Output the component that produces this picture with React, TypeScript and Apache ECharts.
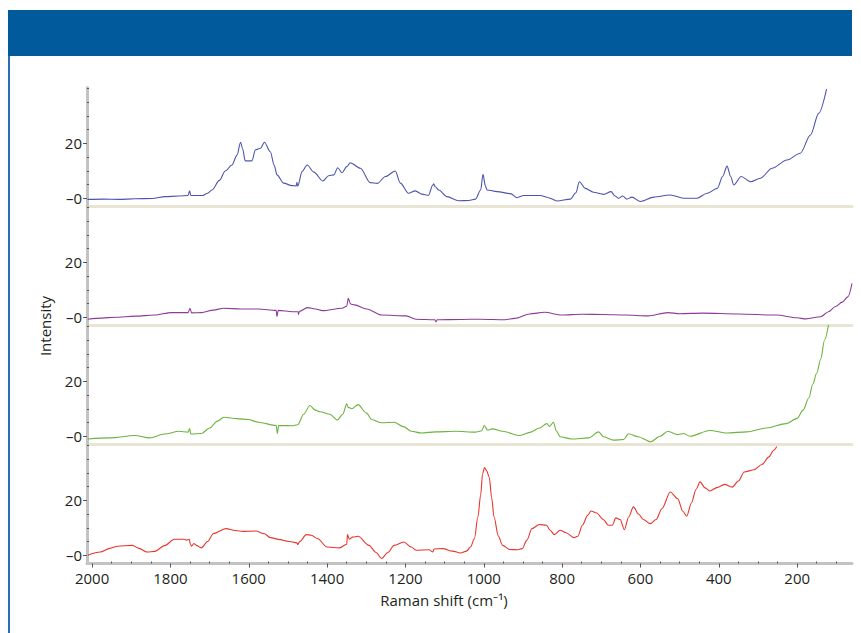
import React, { useEffect, useRef } from "react";
import * as echarts from "echarts";

// Raman shift range (reversed axis) and tick values
const X_MIN = 60;
const X_MAX = 2013;
const X_MAJOR = [200, 400, 600, 800, 1000, 1200, 1400, 1600, 1800, 2000];
const X_MINOR = [
  100, 150, 250, 300, 350, 450, 500, 550, 650, 700, 750, 850, 900, 950, 1050, 1100, 1150,
  1250, 1300, 1350, 1450, 1500, 1550, 1650, 1700, 1750, 1850, 1900, 1950,
];
const Y_MIN = -3;
const Y_MAX = 40.3;
const Y_LABELS = [0, 20];
const Y_MINOR = [5, 10, 15, 25, 30, 35, 40];

const X_TITLE = "Raman shift (cm⁻¹)";
const Y_TITLE = "Intensity";

// spectra: [Raman shift, intensity]
const BLUE: [number, number][] = [
  [2012, -0.4], [1970, -0.3], [1932, -0.4], [1890, -0.2], [1847, -0.1], [1813, 0.6], [1780, 0.8],
  [1755, 1.0], [1751, 2.7], [1748, 1.0], [1719, 1.0], [1705, 1.8], [1694, 3], [1675, 6.5],
  [1660, 9.9], [1643, 12.1], [1630, 15.7], [1621, 20.4], [1616, 18.2], [1609, 13.6], [1592, 13.6],
  [1583, 17.6], [1570, 18.2], [1560, 20.4], [1545, 16.9], [1535, 12], [1528, 8.5], [1511, 5.5],
  [1490, 4.6], [1479, 4.5], [1477, 5.8], [1475, 4.4], [1464, 9.7], [1451, 12.1], [1434, 9.5],
  [1411, 6.3], [1396, 8.2], [1383, 8.5], [1373, 11.1], [1362, 9.3], [1350, 11.5], [1341, 12.9],
  [1315, 10.9], [1290, 5.7], [1272, 5.4], [1251, 7.9], [1226, 9.9], [1213, 5.5], [1192, 1.8],
  [1175, 2.7], [1158, 1.5], [1141, 1.1], [1131, 4.6], [1128, 5.3], [1124, 4.2], [1115, 3],
  [1094, 0.6], [1064, -0.9], [1038, -0.8], [1021, -0.3], [1008, 3], [1002, 8.7], [996, 4.5],
  [992, 3], [966, 2.4], [932, 1.7], [915, 0.2], [898, 1.0], [856, 1.0], [835, 0.2], [813, -1],
  [779, -0.3], [765, 2], [756, 6.0], [741, 3.6], [720, 2.2], [694, 1.4], [675, 2.4], [665, 0.8],
  [656, 0], [645, 0.8], [635, -0.3], [622, 0.4], [600, -1.2], [566, 0.4], [524, 1.2], [490, 0],
  [456, 0], [430, 1.8], [404, 3.6], [390, 8], [379, 11.7], [370, 8], [362, 4.8], [343, 7.9],
  [319, 6], [294, 7.3], [264, 10.9], [226, 13.9], [192, 16.4], [166, 23], [145, 30.9], [125, 39.7],
];

const PURPLE: [number, number][] = [
  [2011, -0.7], [1975, -0.3], [1942, 0], [1890, 0.4], [1841, 0.8], [1797, 1.7], [1755, 1.7],
  [1750, 3.3], [1746, 1.6], [1721, 1.7], [1690, 2.6], [1664, 3.3], [1620, 3.0], [1576, 3.0],
  [1530, 2.5], [1528, 0.2], [1525, 2.5], [1488, 2.0], [1474, 2.0], [1473, 1.0], [1471, 2.1],
  [1450, 3.5], [1430, 3.0], [1412, 2.4], [1362, 3.3], [1350, 4], [1346, 6.9], [1340, 4.8],
  [1330, 4.5], [1299, 3.0], [1261, 0.8], [1198, 0.5], [1173, -0.7], [1125, -0.9], [1122, -1.7],
  [1119, -0.9], [1060, -0.8], [1009, -0.7], [946, -0.9], [921, -0.4], [883, 1.2], [845, 1.8],
  [801, 0.8], [750, 1.1], [694, 1.0], [640, 0.8], [581, 0.5], [530, 1.7], [500, 1.3], [442, 1.5],
  [350, 1.2], [253, 0.8], [200, -0.2], [178, -0.6], [140, 0.2], [120, 2], [102, 3.9], [85, 5.5],
  [70, 7.5], [60, 12.3],
];

const GREEN: [number, number][] = [
  [2011, -1.0], [1954, -0.6], [1891, 0.25], [1853, -0.6], [1815, 0.8], [1778, 1.8], [1755, 1.5],
  [1751, 2.8], [1748, 0.8], [1721, 1.0], [1700, 3], [1680, 5.5], [1664, 6.9], [1630, 6.4],
  [1601, 6.1], [1576, 5.1], [1530, 3.9], [1527, 1.0], [1524, 3.9], [1490, 3.8], [1475, 4.2],
  [1460, 8], [1444, 11.2], [1430, 9.5], [1418, 8.9], [1393, 8.0], [1374, 5.9], [1360, 8],
  [1350, 11.8], [1346, 10.5], [1337, 10], [1321, 11.5], [1300, 8.5], [1286, 6.1], [1261, 4.9],
  [1229, 5.1], [1205, 3.5], [1185, 1.8], [1160, 1.2], [1123, 1.6], [1072, 1.8], [1022, 1.5],
  [1005, 2], [999, 3.9], [990, 2.2], [978, 2.7], [952, 1.8], [908, 0.25], [880, 1.5], [858, 3.0],
  [839, 4.6], [832, 3.6], [822, 5.1], [815, 2], [805, -0.2], [776, -1.0], [732, -0.6], [707, 1.6],
  [694, -0.2], [669, -1.4], [643, -1.2], [631, 0.9], [606, -0.2], [574, -2.0], [550, 0],
  [530, 1.8], [505, 0.6], [490, 1.0], [474, 0], [423, 2.1], [379, 1.2], [329, 1.6], [279, 3.0],
  [228, 4.6], [200, 6.5], [185, 9.5], [170, 14], [160, 19], [150, 23], [140, 28], [130, 35],
  [120, 40.5],
];

const RED: [number, number][] = [
  [2011, 0], [1979, 1.2], [1955, 2.5], [1935, 3.3], [1897, 3.6], [1880, 2.5], [1860, 1.2],
  [1840, 1.4], [1815, 3.5], [1790, 5.8], [1765, 5.8], [1759, 5.5], [1752, 5.8], [1749, 4],
  [1746, 3.3], [1740, 4.3], [1734, 3.6], [1721, 2.7], [1705, 5], [1690, 7.9], [1658, 9.7],
  [1635, 9], [1614, 8.7], [1582, 8.8], [1560, 7.8], [1545, 6.4], [1520, 5.7], [1500, 5.1],
  [1477, 4.5], [1475, 3.9], [1470, 5], [1453, 7.5], [1440, 7.3], [1425, 6.1], [1400, 3.0],
  [1368, 2.7], [1350, 4], [1348, 7.5], [1343, 5.8], [1335, 6.6], [1321, 6.9], [1293, 3.6],
  [1275, 1], [1261, -1.2], [1245, 1], [1229, 3.6], [1204, 4.8], [1185, 3], [1173, 1.8],
  [1140, 2.0], [1130, 1.2], [1127, 2.3], [1104, 2.4], [1080, 1.5], [1059, 0.8], [1044, 1.5],
  [1034, 3.0], [1024, 6], [1015, 14], [1008, 22], [1003, 29.7], [998, 31.9], [993, 30.8],
  [986, 28.4], [980, 21], [974, 14], [963, 7], [952, 3.6], [934, 2.1], [915, 2.0], [902, 2.4],
  [890, 5.5], [877, 9.7], [858, 11.2], [840, 10.9], [830, 9], [820, 7.5], [805, 9.1], [790, 8.2],
  [770, 6.4], [760, 6.9], [748, 11], [735, 14.5], [726, 16.1], [712, 15.4], [695, 13],
  [682, 10.9], [672, 10.9], [663, 13.6], [652, 13], [641, 9.3], [630, 14], [618, 17.6], [605, 15],
  [593, 13], [575, 11.5], [560, 13], [545, 17], [524, 23], [505, 20.6], [492, 16], [482, 14.2],
  [470, 19], [458, 24], [448, 26.7], [435, 24.5], [423, 23.4], [405, 24.6], [385, 25.8],
  [366, 24.8], [350, 27], [335, 30.3], [310, 31.1], [290, 33], [272, 35.8], [260, 38.2],
  [252, 39.6],
];

const SPECTRA = [BLUE, PURPLE, GREEN, RED];
const COLORS = ["#4c55ad", "#8e3a99", "#6cb33f", "#e8352c"];

const FONT = "'Open Sans', 'Noto Sans', sans-serif";
const TEXT_COLOR = "#231f20";

export default function App() {
  const ref = useRef<HTMLDivElement>(null);

  useEffect(() => {
    if (!ref.current) return;
    const chart = echarts.init(ref.current, undefined, { renderer: "svg" });

    const panelTop = 87.5;
    const panelH = 119;
    const grids = SPECTRA.map((_, i) => ({
      left: 87,
      right: 9,
      top: panelTop + i * panelH,
      height: panelH,
    }));

    const xAxes: any[] = SPECTRA.map((_, i) => {
      const last = i === SPECTRA.length - 1;
      return {
        type: "value",
        gridIndex: i,
        position: "bottom",
        min: X_MIN,
        max: X_MAX,
        inverse: true,
        z: 1,
        axisLine: {
          show: true,
          onZero: false,
          lineStyle: { color: last ? "#c3c3c3" : "#e9e5d5", width: 3 },
        },
        axisTick: last
          ? { show: true, customValues: X_MAJOR, length: 4, lineStyle: { color: "#555", width: 1 } }
          : { show: false },
        axisLabel: last
          ? {
              show: true,
              customValues: X_MAJOR,
              fontSize: 15,
              fontFamily: FONT,
              color: TEXT_COLOR,
              margin: 7,
              formatter: (v: number) => String(v),
            }
          : { show: false },
        splitLine: { show: false },
      };
    });
    xAxes.push({
      type: "value",
      gridIndex: SPECTRA.length - 1,
      position: "bottom",
      min: X_MIN,
      max: X_MAX,
      inverse: true,
      z: 3,
      axisLine: { show: false, onZero: false },
      axisTick: { show: true, customValues: X_MINOR, inside: true, length: 2, lineStyle: { color: "#555", width: 1 } },
      axisLabel: { show: false },
      splitLine: { show: false },
    });

    const yAxes: any[] = [];
    SPECTRA.forEach((_, i) => {
      yAxes.push({
        type: "value",
        gridIndex: i,
        position: "left",
        min: Y_MIN,
        max: Y_MAX,
        z: 2,
        axisLine: { show: true, onZero: false, lineStyle: { color: "#c3c3c3", width: 3 } },
        axisTick: { show: true, customValues: Y_LABELS, length: 4, lineStyle: { color: "#555", width: 1 } },
        axisLabel: {
          show: true,
          customValues: Y_LABELS,
          fontSize: 15,
          fontFamily: FONT,
          color: TEXT_COLOR,
          margin: 5,
          formatter: (v: number) => (v === 0 ? "–0" : String(v)),
        },
        splitLine: { show: false },
      });
      yAxes.push({
        type: "value",
        gridIndex: i,
        position: "left",
        min: Y_MIN,
        max: Y_MAX,
        z: 3,
        axisLine: { show: false, onZero: false },
        axisTick: { show: true, customValues: Y_MINOR, inside: true, length: 2, lineStyle: { color: "#555", width: 1 } },
        axisLabel: { show: false },
        splitLine: { show: false },
      });
    });

    const series = SPECTRA.map((data, i) => ({
      type: "line",
      xAxisIndex: i,
      yAxisIndex: i * 2,
      data,
      showSymbol: false,
      symbol: "none",
      clip: true,
      smooth: 0.3,
      smoothMonotone: "x",
      lineStyle: { color: COLORS[i], width: 1.1 },
      z: 4,
    }));

    chart.setOption({
      animation: false,
      backgroundColor: "#ffffff",
      grid: grids,
      xAxis: xAxes,
      yAxis: yAxes,
      series,
      graphic: [
        { type: "rect", left: 8, top: 10, shape: { width: 844, height: 46 }, style: { fill: "#005a9c" }, z: 10 },
        { type: "rect", left: 8, top: 56, shape: { width: 2, height: 577 }, style: { fill: "#2a6db3" }, z: 10 },
        {
          type: "text",
          x: 45,
          y: 326,
          rotation: Math.PI / 2,
          z: 10,
          style: {
            text: Y_TITLE,
            fontSize: 15,
            fontFamily: FONT,
            fill: TEXT_COLOR,
            align: "center",
            verticalAlign: "middle",
            textAlign: "center",
            textVerticalAlign: "middle",
          },
        },
        {
          type: "text",
          x: 444,
          y: 600,
          z: 10,
          style: {
            text: X_TITLE,
            fontSize: 15,
            fontFamily: FONT,
            fill: TEXT_COLOR,
            align: "center",
            verticalAlign: "middle",
            textAlign: "center",
            textVerticalAlign: "middle",
          },
        },
      ],
    });

    return () => chart.dispose();
  }, []);

  return (
    <div
      ref={ref}
      style={{ position: "absolute", left: 0, top: 0, width: 861, height: 633 }}
    />
  );
}
